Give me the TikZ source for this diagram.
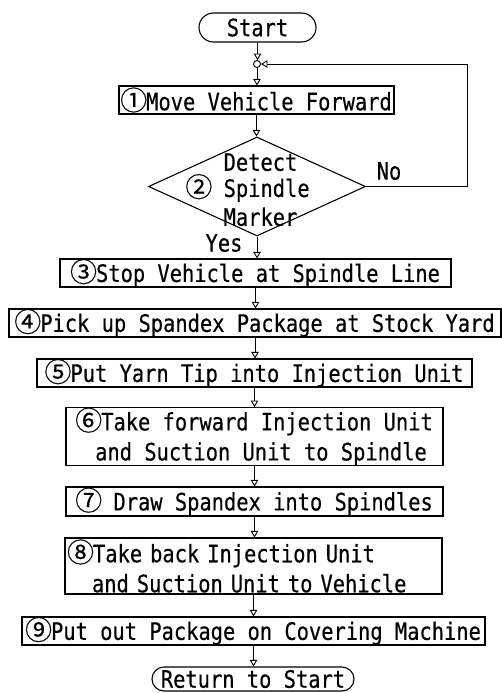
\documentclass[tikz,border=0pt]{standalone}
\usepackage{fontspec}
\usetikzlibrary{shapes.geometric,shapes.misc,arrows.meta}
\newfontfamily\monofam[FakeStretch=0.85,FakeBold=0.4]{DejaVu Sans Mono}
\newfontfamily\cjkfam[FakeBold=0.3]{Noto Sans CJK JP}
\newcommand\circd[1]{\makebox[25pt][c]{\cjkfam\fontsize{27pt}{30pt}\selectfont #1}}
\begin{document}
\begin{tikzpicture}[x=1pt,y=-1pt,
  every node/.style={font=\monofam\fontsize{24pt}{30pt}\selectfont},
  box/.style={draw, line width=1.1pt, inner sep=0pt},
  term/.style={draw, rounded rectangle, line width=1.1pt, inner sep=0pt},
  junc/.style={draw, circle, line width=0.9pt, minimum size=7pt, inner sep=0pt},
  dia/.style={draw, diamond, line width=1.1pt, inner sep=0pt, minimum width=217pt, minimum height=99pt},
  arr/.style={-{Triangle[open,length=6.5pt,width=7.5pt]}, line width=0.9pt},
  plain/.style={inner sep=0pt}]
\useasboundingbox (0,0) rectangle (502,693);
\fill[white] (0,0) rectangle (502,693);

\node[term, minimum width=117pt, minimum height=29pt] (start) at (257.5,27.5) {Start};
\node[junc] (j) at (257,64) {};
\node[box, minimum width=275pt, minimum height=28pt] (s1) at (256.5,100) {\circd{①}Move Vehicle Forward};
\node[dia] (s2) at (257,186.5) {};
\node[plain, align=left, font=\monofam\fontsize{24pt}{25pt}\selectfont] (s2t) at (248,188)
  {\phantom{\circd{②} }Detect\\\circd{②} Spindle\\\phantom{\circd{②} }Marker};
\node[box, minimum width=391pt, minimum height=28pt] (s3) at (255.5,273) {\circd{③}Stop Vehicle at Spindle Line};
\node[box, minimum width=492pt, minimum height=26pt] (s4) at (255,323) {\circd{④}Pick up Spandex Package at Stock Yard};
\node[box, minimum width=435pt, minimum height=28pt] (s5) at (254.5,373) {\circd{⑤}Put Yarn Tip into Injection Unit};
\node[box, minimum width=377pt, minimum height=57pt, align=left] (s6) at (254.5,436.5)
  {\circd{⑥}Take forward Injection Unit\\\hspace*{19pt}and Suction Unit to Spindle};
\node[box, minimum width=377pt, minimum height=29pt] (s7) at (254.5,501.5) {\circd{⑦} Draw Spandex into Spindles};
\node[box, minimum width=377pt, minimum height=56pt, text width=371pt, align=left] (s8) at (253.5,566)
  {\circd{⑧}Take back Injection Unit\\\hspace*{24pt}and Suction Unit to Vehicle};
\node[box, minimum width=463pt, minimum height=28pt] (s9) at (253.5,631) {\circd{⑨}Put out Package on Covering Machine};
\node[term, minimum width=202pt, minimum height=24pt] (ret) at (253,679) {Return to Start};

\node[plain] (yes) at (224,243) {Yes};
\node[plain] (no) at (389,171) {No};

\coordinate (loopc) at (467,64);

\draw[arr] (start.south) -- (start.south |- j.north);
\draw[arr] (j.south) -- (j.south |- s1.north);
\draw[arr] (s1.south) -- (s1.south |- s2.north);
\draw[arr] (s2.south) -- (s2.south |- s3.north);
\draw[arr] (s3.south) -- (s3.south |- s4.north);
\draw[arr] (s4.south) -- (s4.south |- s5.north);
\draw[arr] (s5.south) -- (s5.south |- s6.north);
\draw[arr] (s6.south) -- (s6.south |- s7.north);
\draw[arr] (s7.south) -- (s7.south |- s8.north);
\draw[arr] (s8.south) -- (s8.south |- s9.north);
\draw[arr] (s9.south) -- (s9.south |- ret.north);
\draw[arr] (s2.east) -| (loopc) -- (j.east);
\end{tikzpicture}
\end{document}
